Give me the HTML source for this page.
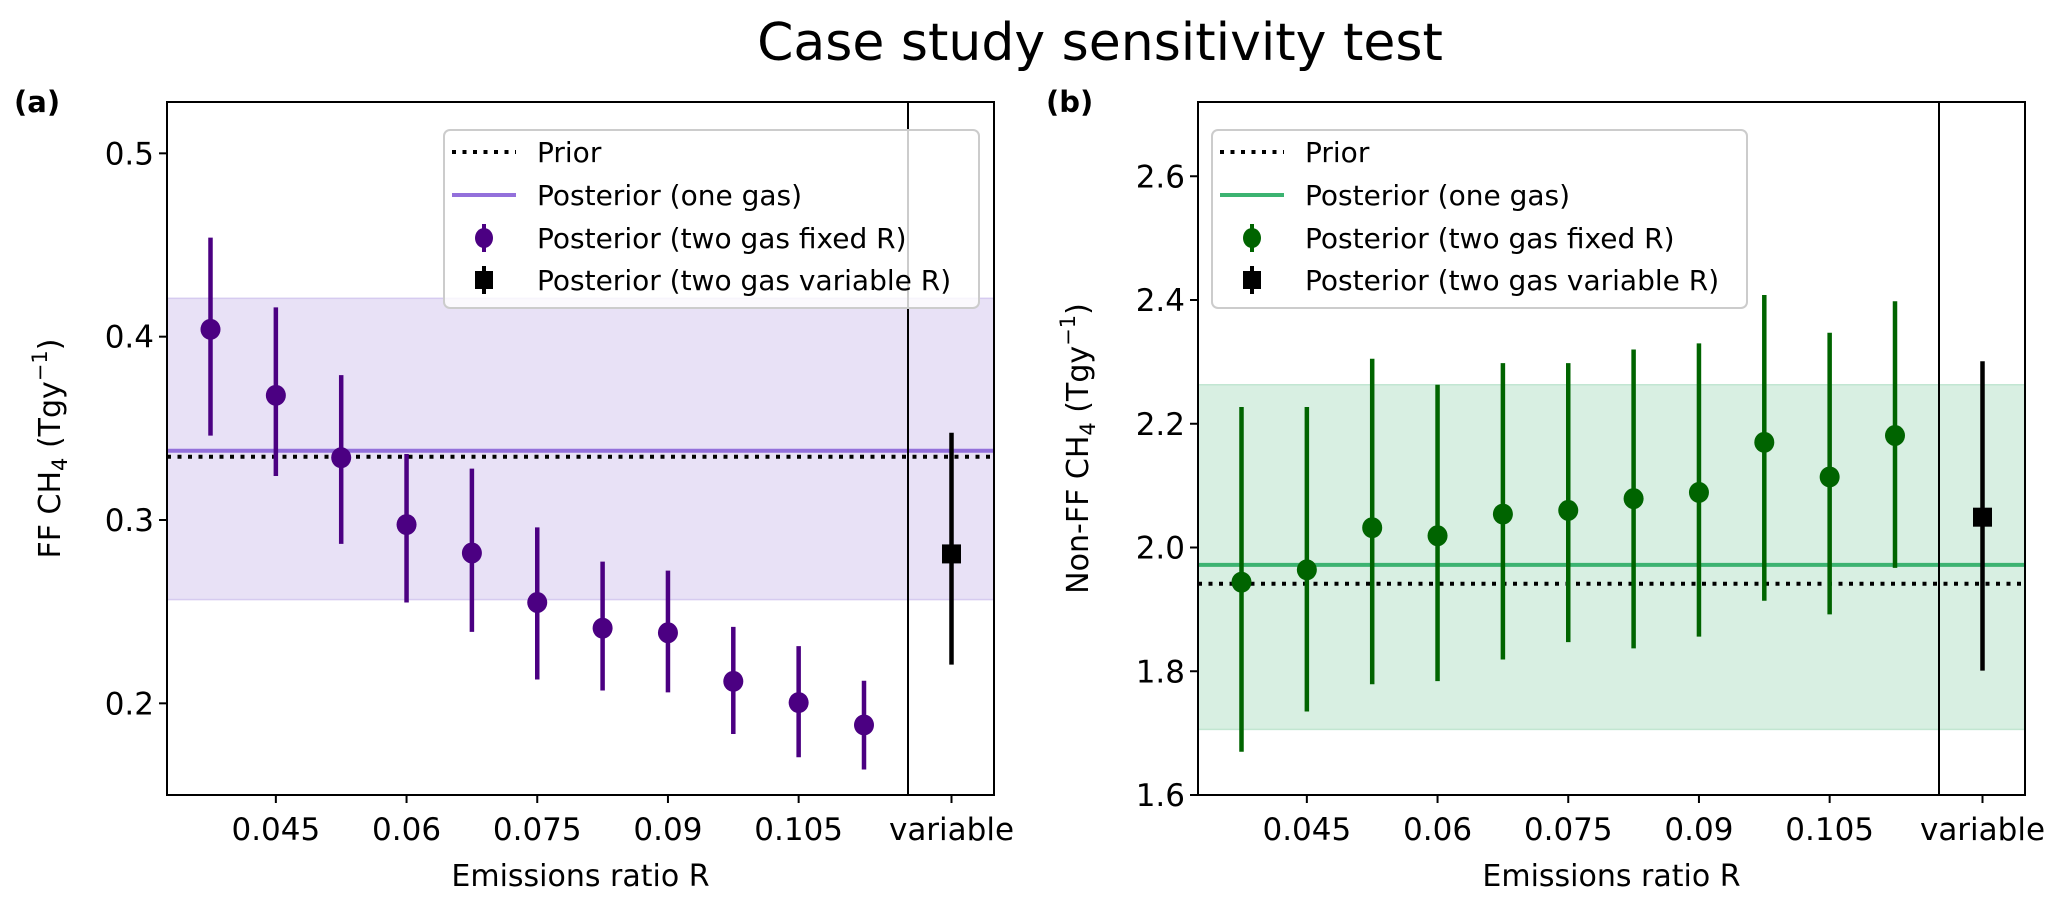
<!DOCTYPE html>
<html><head><meta charset="utf-8"><style>
html,body{margin:0;padding:0;background:#fff;}
svg{display:block;font-family:"DejaVu Sans","Liberation Sans",sans-serif;}
</style></head><body>
<svg id="fig" width="2067" height="899" viewBox="0 0 2067 899" xmlns="http://www.w3.org/2000/svg">
<text x="1100" y="60" font-size="52" text-anchor="middle">Case study sensitivity test</text>
<text x="14" y="112" font-size="29" font-weight="bold">(a)</text>
<text x="1046" y="112" font-size="29" font-weight="bold">(b)</text>
<g id="pa"></g>
<g id="pb"></g>
</svg>
<script>
const ratioCategories = ["0.0375","0.045","0.0525","0.06","0.0675","0.075","0.0825","0.09","0.0975","0.105","0.1125"];
const xTickLabels = ["0.045","0.06","0.075","0.09","0.105"];
const ffValues = [0.404,0.368,0.334,0.2975,0.282,0.255,0.241,0.2385,0.212,0.2004,0.1882];
const ffUpper = [0.454,0.416,0.379,0.336,0.328,0.296,0.2773,0.2724,0.2417,0.2312,0.2123];
const ffLower = [0.346,0.324,0.287,0.255,0.239,0.213,0.207,0.206,0.1833,0.1706,0.1639];
const ffVariable = [0.2815,0.3476,0.2211];
const ffPrior = 0.3345, ffOneGas = 0.3378, ffBand = [0.2566,0.4209];
const ffTicks = [0.2,0.3,0.4,0.5];
const nffValues = [1.944,1.964,2.032,2.019,2.054,2.060,2.079,2.089,2.170,2.114,2.181];
const nffUpper = [2.227,2.227,2.305,2.263,2.298,2.298,2.320,2.330,2.408,2.347,2.398];
const nffLower = [1.670,1.735,1.779,1.784,1.819,1.847,1.837,1.856,1.914,1.892,1.967];
const nffVariable = [2.049,2.301,1.801];
const nffPrior = 1.9415, nffOneGas = 1.972, nffBand = [1.706,2.263];
const nffTicks = [1.6,1.8,2.0,2.2,2.4,2.6];

const NS="http://www.w3.org/2000/svg";
function mk(parent,tag,attrs){const e=document.createElementNS(NS,tag);for(const k in attrs)e.setAttribute(k,attrs[k]);parent.appendChild(e);return e;}

function panel(g,left,cfg){
  const top=102,bottom=795,width=827,right=left+width;
  const x0=left+43.5, dx=65.35;
  const xIdx=i=>x0+i*dx;
  const xVar=left+784.5, xDiv=left+741;
  const y=v=>bottom-(v-cfg.ymin)/(cfg.ymax-cfg.ymin)*(bottom-top);
  let e=mk(g,'rect',{x:left,y:y(cfg.band[1]),width:width,height:y(cfg.band[0])-y(cfg.band[1]),fill:cfg.bandFill,stroke:cfg.bandStroke,'stroke-width':1.5});
  
  
  e=mk(g,'line',{x1:left,x2:right,y1:y(cfg.one),y2:y(cfg.one),stroke:cfg.lineColor,'stroke-width':4});
  
  
  e=mk(g,'line',{x1:left,x2:right,y1:y(cfg.prior),y2:y(cfg.prior),stroke:'#000','stroke-width':4,'stroke-dasharray':'4 6.5'});
  
  
  e=mk(g,'line',{x1:xDiv,x2:xDiv,y1:top,y2:bottom,stroke:'#000','stroke-width':2});
  
  
  cfg.vals.forEach((v,i)=>{
    const pg=mk(g,'g',{});
    
    
    mk(pg,'line',{x1:xIdx(i),x2:xIdx(i),y1:y(cfg.up[i]),y2:y(cfg.lo[i]),stroke:cfg.ptColor,'stroke-width':4.5});
    mk(pg,'ellipse',{cx:xIdx(i),cy:y(v),rx:10,ry:10.5,fill:cfg.ptColor});
  });
  const vg=mk(g,'g',{});
  
  
  mk(vg,'line',{x1:xVar,x2:xVar,y1:y(cfg.vv[1]),y2:y(cfg.vv[2]),stroke:'#000','stroke-width':4.5});
  mk(vg,'rect',{x:xVar-9.5,y:y(cfg.vv[0])-9.5,width:19,height:19,fill:'#000'});
  e=mk(g,'rect',{x:left,y:top,width:width,height:bottom-top,fill:'none',stroke:'#000','stroke-width':2});
  
  
  cfg.ticks.forEach(t=>{
    mk(g,'line',{x1:left-8,x2:left,y1:y(t),y2:y(t),stroke:'#000','stroke-width':2});
    const tx=mk(g,'text',{x:left-13,y:y(t)+11,'font-size':31,'text-anchor':'end'});
    tx.textContent=t.toFixed(1);
    
    
  });
  xTickLabels.forEach((lab,k)=>{
    const xx=xIdx(1+2*k);
    mk(g,'line',{x1:xx,x2:xx,y1:bottom,y2:bottom+8,stroke:'#000','stroke-width':2});
    const tx=mk(g,'text',{x:xx,y:840,'font-size':31,'text-anchor':'middle'});
    tx.textContent=lab;
    
    
  });
  mk(g,'line',{x1:xVar,x2:xVar,y1:bottom,y2:bottom+8,stroke:'#000','stroke-width':2});
  let tx=mk(g,'text',{x:xVar,y:840,'font-size':31,'text-anchor':'middle'});
  tx.textContent='variable';
  
  
  tx=mk(g,'text',{x:left+width/2,y:886,'font-size':30,'text-anchor':'middle'});
  tx.textContent='Emissions ratio R';
  
  
  tx=mk(g,'text',{x:0,y:0,'font-size':30,'text-anchor':'middle',transform:`translate(${cfg.ylabX},${(top+bottom)/2}) rotate(-90)`});
  tx.innerHTML=cfg.ylab+' CH<tspan font-size="21" dy="7">4</tspan><tspan dy="-7"> (Tgy</tspan><tspan font-size="21" dy="-13">−1</tspan><tspan dy="13">)</tspan>';
  
  
  const lg=mk(g,'g',{});
  
  
  const lx=cfg.legX;
  mk(lg,'rect',{x:lx,y:130,width:535,height:178,rx:6,fill:'rgba(255,255,255,0.8)',stroke:'#cccccc','stroke-width':2});
  const rows=[152,195,238,280];
  const labels=['Prior','Posterior (one gas)','Posterior (two gas fixed R)','Posterior (two gas variable R)'];
  mk(lg,'line',{x1:lx+8,x2:lx+72,y1:rows[0],y2:rows[0],stroke:'#000','stroke-width':4,'stroke-dasharray':'4 6.5'});
  mk(lg,'line',{x1:lx+8,x2:lx+72,y1:rows[1],y2:rows[1],stroke:cfg.lineColor,'stroke-width':4});
  mk(lg,'line',{x1:lx+40,x2:lx+40,y1:rows[2]-14,y2:rows[2]+14,stroke:cfg.ptColor,'stroke-width':4});
  mk(lg,'ellipse',{cx:lx+40,cy:rows[2],rx:9,ry:10,fill:cfg.ptColor});
  mk(lg,'line',{x1:lx+40,x2:lx+40,y1:rows[3]-14,y2:rows[3]+14,stroke:'#000','stroke-width':4});
  mk(lg,'rect',{x:lx+31,y:rows[3]-9,width:18,height:18,fill:'#000'});
  labels.forEach((l,k)=>{
    const t=mk(lg,'text',{x:lx+93,y:rows[k]+10,'font-size':28});
    t.textContent=l;
    
    
  });
}
panel(document.getElementById('pa'),167,{ymin:0.15,ymax:0.528,vals:ffValues,up:ffUpper,lo:ffLower,vv:ffVariable,prior:ffPrior,one:ffOneGas,band:ffBand,ticks:ffTicks,
  bandFill:'#e8e1f6',bandStroke:'#d6cbf0',lineColor:'#9370db',ptColor:'#4b0082',ylab:'FF',ylabX:60,legX:444});
panel(document.getElementById('pb'),1198,{ymin:1.6,ymax:2.72,vals:nffValues,up:nffUpper,lo:nffLower,vv:nffVariable,prior:nffPrior,one:nffOneGas,band:nffBand,ticks:nffTicks,
  bandFill:'#d8efe2',bandStroke:'#c2e6d1',lineColor:'#3cb371',ptColor:'#006400',ylab:'Non-FF',ylabX:1088,legX:1212});
</script>
</body></html>
